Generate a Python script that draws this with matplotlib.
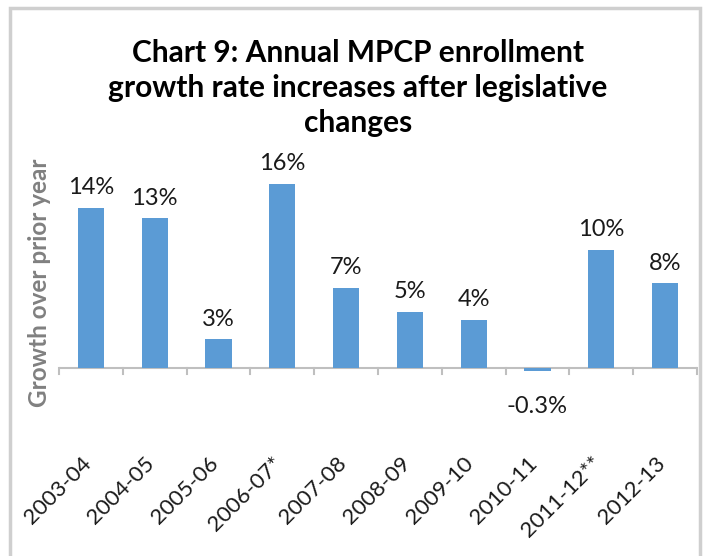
import matplotlib
matplotlib.use("Agg")
import matplotlib.pyplot as plt
import matplotlib.transforms as mtransforms
from matplotlib.patches import Rectangle

categories = ["2003-04", "2004-05", "2005-06", "2006-07*", "2007-08",
              "2008-09", "2009-10", "2010-11", "2011-12**", "2012-13"]
values = [14.0, 13.1, 2.5, 16.1, 7.0, 4.9, 4.2, -0.3, 10.35, 7.4]
value_labels = ["14%", "13%", "3%", "16%", "7%", "5%", "4%", "-0.3%", "10%", "8%"]
title = "Chart 9: Annual MPCP enrollment\ngrowth rate increases after legislative\nchanges"
ylabel = "Growth over prior year"

W, H = 713, 556
plt.rcParams['font.family'] = ['Lato', 'DejaVu Sans']
fig = plt.figure(figsize=(W / 100, H / 100), dpi=100)
fig.patch.set_facecolor("white")

# outer frame
fig.patches.append(Rectangle((10 / W, -0.05), 690 / W, (H - 8) / H + 0.05,
                             transform=fig.transFigure, fill=False,
                             edgecolor="#CFCFCF", linewidth=2.5))

ymin, ymax = -3, 18
px_per = 11.43
zero_px = 368
bottom_px = zero_px - ymin * px_per
top_px = zero_px - ymax * px_per
ax = fig.add_axes([59 / W, (H - bottom_px) / H, 638 / W, (bottom_px - top_px) / H])
ax.set_xlim(-0.5, len(categories) - 0.5)
ax.set_ylim(ymin, ymax)

x = list(range(len(categories)))
ax.bar(x, values, width=0.41, color="#5B9BD5", zorder=2)

for s in ax.spines.values():
    s.set_visible(False)
ax.axhline(0, color="#BFBFBF", linewidth=1.5, zorder=1)
ax.set_yticks([])
ax.set_xticks([])
# tick marks at category boundaries
for b in [i - 0.5 for i in range(len(categories) + 1)]:
    ax.plot([b, b], [0, -6 / px_per], color="#BFBFBF", linewidth=1.5,
            clip_on=False, zorder=1)

for xi, v, lab in zip(x, values, value_labels):
    if v >= 0:
        ax.annotate(lab, (xi, v), xytext=(0, 7), textcoords="offset points",
                    ha="center", va="bottom", fontsize=17, color="#1a1a1a")
    else:
        ax.annotate(lab, (xi, v), xytext=(0, -18), textcoords="offset points",
                    ha="center", va="top", fontsize=17, color="#1a1a1a")

trans = mtransforms.blended_transform_factory(ax.transData, ax.transAxes)
off = mtransforms.ScaledTranslation(4 / 100, 0, fig.dpi_scale_trans)
ylab_axes = (bottom_px - 453) / (bottom_px - top_px)
for xi, c in zip(x, categories):
    ax.text(xi, ylab_axes, c, transform=trans + off, rotation=45,
            ha="right", va="top", fontsize=16, color="#1a1a1a")

fig.text(358 / W, 1 - 88 / H, title, ha="center", va="center",
         fontsize=21.5, fontweight="bold", color="black", linespacing=1.3)

fig.text(40 / W, 1 - 283 / H, ylabel, rotation=90, ha="center", va="center",
         fontsize=17.5, fontweight="bold", color="#808080")

fig.savefig("out.png", dpi=100, facecolor="white")
